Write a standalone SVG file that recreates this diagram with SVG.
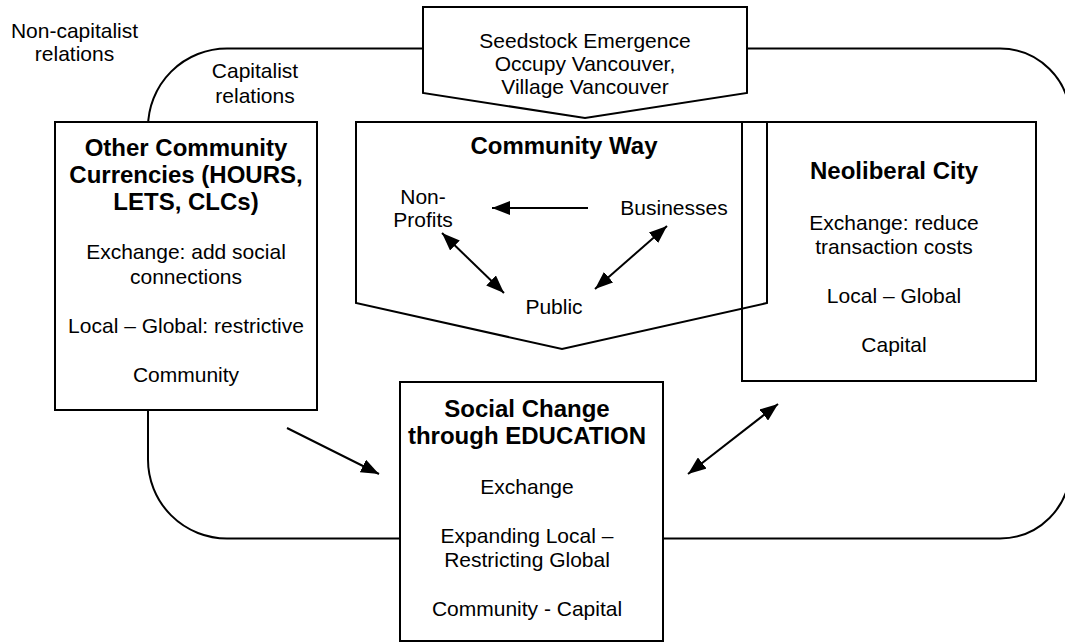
<svg xmlns="http://www.w3.org/2000/svg" width="1065" height="643" viewBox="0 0 1065 643">
<style>
  .box { fill: #fff; stroke: #000; stroke-width: 2; }
  .open { fill: none; stroke: #000; stroke-width: 2; }
  .t { font-family: "Liberation Sans", Arial, sans-serif; font-size: 21px; fill: #000; text-anchor: middle; }
  .b { font-family: "Liberation Sans", Arial, sans-serif; font-size: 24px; font-weight: bold; fill: #000; text-anchor: middle; }
  .c { stroke: #000; stroke-width: 2; fill: none; }
</style>
<defs>
  <marker id="ah" viewBox="0 0 18 14" refX="18" refY="7" markerWidth="18" markerHeight="14" markerUnits="userSpaceOnUse" orient="auto-start-reverse">
    <path d="M0,0 L18,7 L0,14 z" fill="#000"/>
  </marker>
</defs>
<rect width="1065" height="643" fill="#fff"/>

<g id="relations-boundary">
  <path class="open" d="M227,48.5 H1000 A70 70 0 0 1 1070,118.5 V468.5 A70 70 0 0 1 1000,538.5 H227 A79 79 0 0 1 148,459.5 V127.5 A79 79 0 0 1 227,48.5 Z"/>
  <text class="t" x="74.5" y="37.5">Non-capitalist</text>
  <text class="t" x="74.5" y="60.5">relations</text>
  <text class="t" x="255" y="77.5">Capitalist</text>
  <text class="t" x="255" y="102.5">relations</text>
</g>

<g id="seedstock">
  <polygon class="box" points="423,7 747,7 747,93 585,118 423,93"/>
  <text class="t" x="585" y="47.5">Seedstock Emergence</text>
  <text class="t" x="585" y="70.5">Occupy Vancouver,</text>
  <text class="t" x="585" y="93.5">Village Vancouver</text>
</g>

<g id="other-currencies">
  <rect class="box" x="55" y="122" width="262" height="288"/>
  <text class="b" x="186" y="155.6">Other Community</text>
  <text class="b" x="186" y="182.6">Currencies (HOURS,</text>
  <text class="b" x="186" y="209.6">LETS, CLCs)</text>
  <text class="t" x="186" y="258.5">Exchange: add social</text>
  <text class="t" x="186" y="283.5">connections</text>
  <text class="t" x="186" y="332.5">Local – Global: restrictive</text>
  <text class="t" x="186" y="381.5">Community</text>
</g>

<g id="community-way">
  <polygon class="open" points="356,122 767,122 767,303 562,349 356,303"/>
  <text class="b" x="564" y="153.6">Community Way</text>
  <text class="t" x="423" y="204">Non-</text>
  <text class="t" x="423" y="227">Profits</text>
  <text class="t" x="674" y="214.5">Businesses</text>
  <text class="t" x="554" y="313.5">Public</text>
</g>

<g id="neoliberal-city">
  <rect class="open" x="742" y="122" width="294" height="259"/>
  <text class="b" x="894" y="178.6">Neoliberal City</text>
  <text class="t" x="894" y="229.5">Exchange: reduce</text>
  <text class="t" x="894" y="253.5">transaction costs</text>
  <text class="t" x="894" y="302.5">Local – Global</text>
  <text class="t" x="894" y="351.5">Capital</text>
</g>

<g id="social-change">
  <rect class="box" x="400" y="382" width="263" height="259"/>
  <text class="b" x="527" y="416.6">Social Change</text>
  <text class="b" x="527" y="443.6">through EDUCATION</text>
  <text class="t" x="527" y="493.5">Exchange</text>
  <text class="t" x="527" y="542.5">Expanding Local –</text>
  <text class="t" x="527" y="566.5">Restricting Global</text>
  <text class="t" x="527" y="615.5">Community - Capital</text>
</g>

<g id="connectors">
  <line class="c" x1="588" y1="208" x2="492" y2="208" marker-end="url(#ah)"/>
  <line class="c" x1="442" y1="233" x2="504" y2="293" marker-start="url(#ah)" marker-end="url(#ah)"/>
  <line class="c" x1="667" y1="226" x2="595" y2="289" marker-start="url(#ah)" marker-end="url(#ah)"/>
  <line class="c" x1="287" y1="428" x2="379" y2="474" marker-end="url(#ah)"/>
  <line class="c" x1="688" y1="474" x2="778" y2="404" marker-start="url(#ah)" marker-end="url(#ah)"/>
</g>
</svg>
